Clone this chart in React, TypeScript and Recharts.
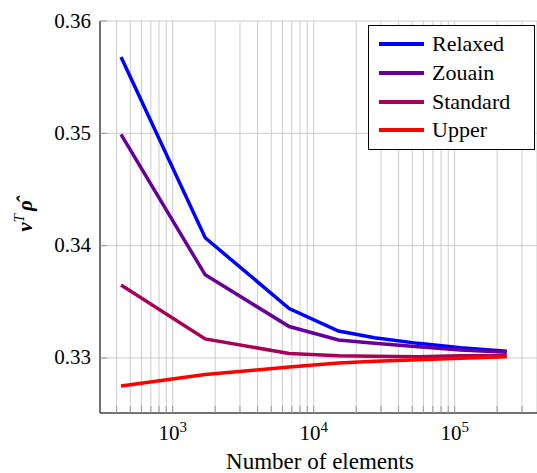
import { CartesianGrid, Legend, Line, LineChart, XAxis, YAxis } from "recharts";

// number of elements per mesh (x), and the four estimates of v^T rho
const elements = [430, 1700, 6700, 15000, 27000, 55000, 110000, 234000];
const relaxed = [0.3568, 0.3407, 0.3344, 0.3324, 0.3318, 0.3313, 0.3309, 0.3306];
const zouain = [0.3499, 0.3374, 0.3328, 0.3316, 0.3313, 0.331, 0.3307, 0.3305];
const standard = [0.3365, 0.3317, 0.3304, 0.3302, 0.33015, 0.3301, 0.3302, 0.3302];
const upper = [0.3275, 0.32852, 0.3292, 0.32955, 0.3297, 0.32985, 0.32998, 0.3301];

const seriesNames = ["Relaxed", "Zouain", "Standard", "Upper"];

const gridTicks = [
  400, 500, 600, 700, 800, 900, 1000,
  2000, 3000, 4000, 5000, 6000, 7000, 8000, 9000, 10000,
  20000, 30000, 40000, 50000, 60000, 70000, 80000, 90000, 100000,
  200000, 300000,
];
const majorTicks = [1000, 10000, 100000];
const yTicks = [0.33, 0.34, 0.35, 0.36];

const data = elements.map((n, i) => ({
  n,
  relaxed: relaxed[i],
  zouain: zouain[i],
  standard: standard[i],
  upper: upper[i],
}));

const FONT = "Liberation Serif, Times New Roman, Times, DejaVu Serif, serif";

function XTick({ x, y, payload }: any) {
  const major = majorTicks.includes(payload.value);
  const exp = Math.round(Math.log10(payload.value));
  return (
    <g>
      <line x1={x} x2={x} y1={y} y2={y - 7} stroke="#999" />
      {major && (
        <text x={x} y={y + 27} textAnchor="middle" style={{ fontFamily: FONT }} fontSize={21} fill="#000">
          10
          <tspan dy={-8} fontSize={15}>
            {exp}
          </tspan>
        </text>
      )}
    </g>
  );
}

function YTick({ x, y, payload }: any) {
  return (
    <g>
      <line x1={x} x2={x + 7} y1={y} y2={y} stroke="#999" />
      <text x={x - 9} y={y + 6.5} textAnchor="end" style={{ fontFamily: FONT }} fontSize={21} fill="#000">
        {payload.value.toFixed(2)}
      </text>
    </g>
  );
}

function LegendBox({ payload }: any) {
  const items = seriesNames.map((name) => payload.find((e: any) => e.value === name)).filter(Boolean);
  return (
    <div
      style={{
        boxSizing: "border-box",
        width: 167,
        height: 125,
        border: "1px solid #000",
        background: "#fff",
        paddingTop: 4,
        fontFamily: FONT,
        fontSize: 22,
      }}
    >
      {items.map((e: any) => (
        <div key={e.value} style={{ display: "flex", alignItems: "center", height: 28.7 }}>
          <span style={{ width: 45, height: 4, background: e.color, marginLeft: 10, marginRight: 8 }} />
          <span>{e.value}</span>
        </div>
      ))}
    </div>
  );
}

export default function App() {
  return (
    <div style={{ position: "absolute", left: 0, top: 0, background: "#fff" }}>
      <LineChart width={537} height={473} data={data} margin={{ top: 21, right: 0, left: 0, bottom: 0 }}>
        <CartesianGrid stroke="#cccccc" strokeWidth={1} />
        <XAxis
          dataKey="n"
          type="number"
          scale="log"
          domain={[305, 383500]}
          ticks={gridTicks}
          interval={0}
          allowDataOverflow
          height={60}
          axisLine={{ stroke: "#000" }}
          tickLine={false}
          tickSize={0}
          tickMargin={0}
          tick={<XTick />}
          label={{
            content: () => (
              <text x={320} y={469} textAnchor="middle" style={{ fontFamily: FONT }} fontSize={23} fill="#000">
                Number of elements
              </text>
            ),
          }}
        />
        <YAxis
          type="number"
          domain={[0.3251, 0.36]}
          ticks={yTicks}
          interval={0}
          allowDataOverflow
          width={100}
          axisLine={{ stroke: "#000" }}
          tickLine={false}
          tickSize={0}
          tickMargin={0}
          tick={<YTick />}
          label={{
            content: () => (
              <text transform="translate(32,216) rotate(-90)" textAnchor="middle" style={{ fontFamily: FONT }} fontSize={21} fill="#000">
                <tspan fontWeight="bold" fontStyle="italic">v</tspan>
                <tspan dy={-8} fontSize={15} fontStyle="italic">T</tspan>
                <tspan dy={8} dx={3} fontWeight="bold" fontStyle="italic">ρ̂</tspan>
              </text>
            ),
          }}
        />
        <Legend
          layout="horizontal"
          verticalAlign="middle"
          content={<LegendBox />}
          wrapperStyle={{ left: 368, top: 25, width: 167, height: 125 }}
        />
        <Line dataKey="relaxed" name="Relaxed" stroke="#0000ff" strokeWidth={3.5} dot={false} isAnimationActive={false} />
        <Line dataKey="zouain" name="Zouain" stroke="#660099" strokeWidth={3.5} dot={false} isAnimationActive={false} />
        <Line dataKey="standard" name="Standard" stroke="#a80057" strokeWidth={3.5} dot={false} isAnimationActive={false} />
        <Line dataKey="upper" name="Upper" stroke="#ff0000" strokeWidth={3.5} dot={false} isAnimationActive={false} />
      </LineChart>
    </div>
  );
}
